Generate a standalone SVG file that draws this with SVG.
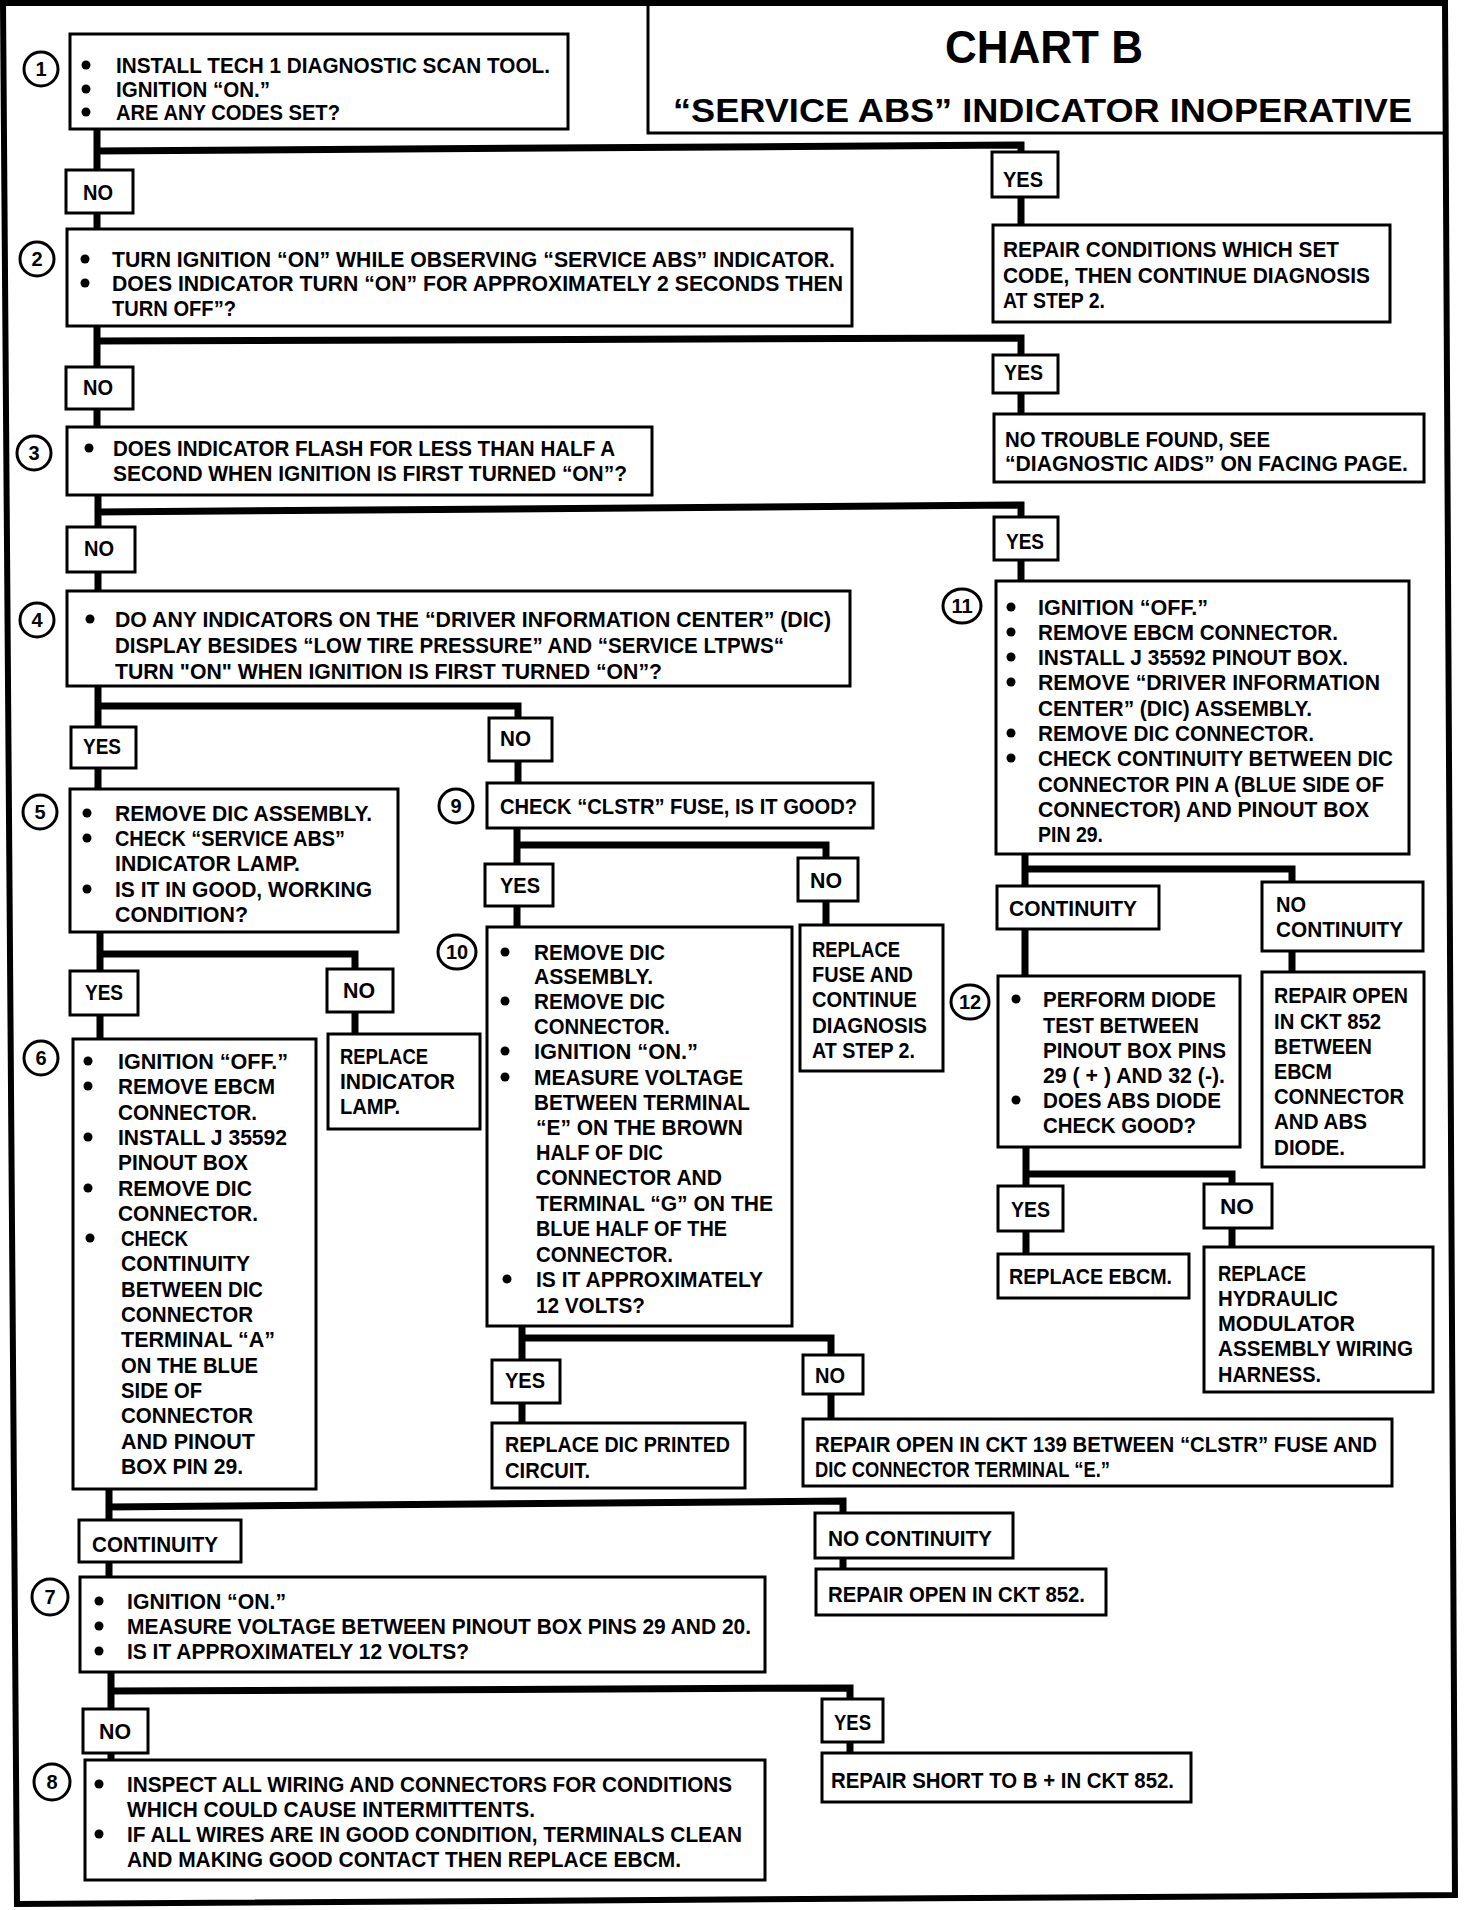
<svg xmlns="http://www.w3.org/2000/svg" width="1472" height="1910" viewBox="0 0 1472 1910">
<style>
text{font-family:"Liberation Sans",Arial,sans-serif;font-weight:bold;font-size:22px;fill:#000}
.n{font-size:20px;text-anchor:middle}
.h1{font-size:46px}
.h2{font-size:34px}
.d{fill:#000}
.box{fill:#fff;stroke:#000;stroke-width:3}
.c{fill:#fff;stroke:#000;stroke-width:3}
.w{fill:none;stroke:#000;stroke-width:7;stroke-linecap:square}
</style>
<rect width="1472" height="1910" fill="#fff"/>
<path d="M3 3 L1445 3 L1455 1895 L17 1904 Z" fill="none" stroke="#000" stroke-width="6"/>
<g id="title">
<path d="M648 3 V133 H1445" fill="none" stroke="#000" stroke-width="3"/>
<text class="h1" x="945" y="63" textLength="198" lengthAdjust="spacingAndGlyphs">CHART B</text>
<text class="h2" x="673" y="122" textLength="739" lengthAdjust="spacingAndGlyphs">“SERVICE ABS” INDICATOR INOPERATIVE</text>
</g>
<g id="connectors">
<path class="w" d="M97 129 V229 M97 151 L1021 145 V225"/>
<path class="w" d="M97 326 V426 M97 341 L1021 338 V414"/>
<path class="w" d="M98 495 V591 M98 512 L1021 505 V581"/>
<path class="w" d="M98 686 V789 M98 706 H518 V783"/>
<path class="w" d="M100 932 V1039 M100 954 H355 V1034"/>
<path class="w" d="M517 828 V927 M517 845 H826 V925"/>
<path class="w" d="M522 1326 V1423 M522 1338 H831 V1419"/>
<path class="w" d="M109 1489 V1578 M109 1507 L843 1501 V1569"/>
<path class="w" d="M111 1672 V1760 M111 1691 L850 1688 V1753"/>
<path class="w" d="M1025 854 V976 M1025 869 H1292 V972"/>
<path class="w" d="M1026 1147 V1254 M1026 1174 H1232 V1247"/>
</g>
<g id="step1">
<rect class="box" x="70" y="34" width="498" height="95"/>
<circle class="c" cx="41" cy="69" r="17"/><text class="n" x="41" y="76">1</text>
<circle class="d" cx="86" cy="65" r="4.5"/><text x="116" y="73" textLength="434" lengthAdjust="spacingAndGlyphs">INSTALL TECH 1 DIAGNOSTIC SCAN TOOL.</text>
<circle class="d" cx="86" cy="89" r="4.5"/><text x="116" y="97" textLength="154" lengthAdjust="spacingAndGlyphs">IGNITION “ON.”</text>
<circle class="d" cx="86" cy="112" r="4.5"/><text x="116" y="120" textLength="224" lengthAdjust="spacingAndGlyphs">ARE ANY CODES SET?</text>
</g>
<g id="no1"><rect class="box" x="66" y="170" width="67" height="43"/><text x="83" y="200" textLength="30" lengthAdjust="spacingAndGlyphs">NO</text></g>
<g id="yes1"><rect class="box" x="992" y="152" width="66" height="45"/><text x="1003" y="187" textLength="40" lengthAdjust="spacingAndGlyphs">YES</text></g>
<g id="repair-conditions">
<rect class="box" x="993" y="225" width="397" height="97"/>
<text x="1003" y="257" textLength="336" lengthAdjust="spacingAndGlyphs">REPAIR CONDITIONS WHICH SET</text>
<text x="1003" y="283" textLength="367" lengthAdjust="spacingAndGlyphs">CODE, THEN CONTINUE DIAGNOSIS</text>
<text x="1003" y="308" textLength="102" lengthAdjust="spacingAndGlyphs">AT STEP 2.</text>
</g>
<g id="step2">
<rect class="box" x="67" y="229" width="785" height="97"/>
<circle class="c" cx="37" cy="259" r="17"/><text class="n" x="37" y="266">2</text>
<circle class="d" cx="85" cy="259" r="4.5"/><text x="112" y="267" textLength="723" lengthAdjust="spacingAndGlyphs">TURN IGNITION “ON” WHILE OBSERVING “SERVICE ABS” INDICATOR.</text>
<circle class="d" cx="85" cy="283" r="4.5"/><text x="112" y="291" textLength="731" lengthAdjust="spacingAndGlyphs">DOES INDICATOR TURN “ON” FOR APPROXIMATELY 2 SECONDS THEN</text>
<text x="112" y="316" textLength="124" lengthAdjust="spacingAndGlyphs">TURN OFF”?</text>
</g>
<g id="no2"><rect class="box" x="66" y="367" width="67" height="42"/><text x="83" y="395" textLength="30" lengthAdjust="spacingAndGlyphs">NO</text></g>
<g id="yes2"><rect class="box" x="993" y="355" width="65" height="38"/><text x="1004" y="380" textLength="39" lengthAdjust="spacingAndGlyphs">YES</text></g>
<g id="no-trouble">
<rect class="box" x="994" y="414" width="430" height="68"/>
<text x="1005" y="447" textLength="265" lengthAdjust="spacingAndGlyphs">NO TROUBLE FOUND, SEE</text>
<text x="1005" y="471" textLength="403" lengthAdjust="spacingAndGlyphs">“DIAGNOSTIC AIDS” ON FACING PAGE.</text>
</g>
<g id="step3">
<rect class="box" x="67" y="427" width="585" height="68"/>
<circle class="c" cx="34" cy="453" r="17"/><text class="n" x="34" y="460">3</text>
<circle class="d" cx="89" cy="448" r="4.5"/><text x="113" y="456" textLength="502" lengthAdjust="spacingAndGlyphs">DOES INDICATOR FLASH FOR LESS THAN HALF A</text>
<text x="113" y="481" textLength="514" lengthAdjust="spacingAndGlyphs">SECOND WHEN IGNITION IS FIRST TURNED “ON”?</text>
</g>
<g id="no3"><rect class="box" x="67" y="527" width="68" height="45"/><text x="84" y="556" textLength="30" lengthAdjust="spacingAndGlyphs">NO</text></g>
<g id="yes3"><rect class="box" x="994" y="517" width="64" height="43"/><text x="1006" y="549" textLength="38" lengthAdjust="spacingAndGlyphs">YES</text></g>
<g id="step11">
<rect class="box" x="996" y="581" width="413" height="273"/>
<ellipse class="c" cx="962" cy="606" rx="19" ry="17"/><text class="n" x="962" y="613">11</text>
<circle class="d" cx="1011" cy="607" r="4.5"/><text x="1038" y="615" textLength="170" lengthAdjust="spacingAndGlyphs">IGNITION “OFF.”</text>
<circle class="d" cx="1011" cy="632" r="4.5"/><text x="1038" y="640" textLength="300" lengthAdjust="spacingAndGlyphs">REMOVE EBCM CONNECTOR.</text>
<circle class="d" cx="1011" cy="657" r="4.5"/><text x="1038" y="665" textLength="310" lengthAdjust="spacingAndGlyphs">INSTALL J 35592 PINOUT BOX.</text>
<circle class="d" cx="1011" cy="682" r="4.5"/><text x="1038" y="690" textLength="342" lengthAdjust="spacingAndGlyphs">REMOVE “DRIVER INFORMATION</text>
<text x="1038" y="716" textLength="274" lengthAdjust="spacingAndGlyphs">CENTER” (DIC) ASSEMBLY.</text>
<circle class="d" cx="1011" cy="733" r="4.5"/><text x="1038" y="741" textLength="276" lengthAdjust="spacingAndGlyphs">REMOVE DIC CONNECTOR.</text>
<circle class="d" cx="1011" cy="758" r="4.5"/><text x="1038" y="766" textLength="355" lengthAdjust="spacingAndGlyphs">CHECK CONTINUITY BETWEEN DIC</text>
<text x="1038" y="792" textLength="346" lengthAdjust="spacingAndGlyphs">CONNECTOR PIN A (BLUE SIDE OF</text>
<text x="1038" y="817" textLength="331" lengthAdjust="spacingAndGlyphs">CONNECTOR) AND PINOUT BOX</text>
<text x="1038" y="842" textLength="65" lengthAdjust="spacingAndGlyphs">PIN 29.</text>
</g>
<g id="step4">
<rect class="box" x="67" y="591" width="783" height="95"/>
<circle class="c" cx="37" cy="620" r="17"/><text class="n" x="37" y="627">4</text>
<circle class="d" cx="90" cy="619" r="4.5"/><text x="115" y="627" textLength="716" lengthAdjust="spacingAndGlyphs">DO ANY INDICATORS ON THE “DRIVER INFORMATION CENTER” (DIC)</text>
<text x="115" y="653" textLength="669" lengthAdjust="spacingAndGlyphs">DISPLAY BESIDES “LOW TIRE PRESSURE” AND “SERVICE LTPWS“</text>
<text x="115" y="679" textLength="547" lengthAdjust="spacingAndGlyphs">TURN "ON" WHEN IGNITION IS FIRST TURNED “ON”?</text>
</g>
<g id="yes4"><rect class="box" x="71" y="727" width="65" height="41"/><text x="83" y="754" textLength="38" lengthAdjust="spacingAndGlyphs">YES</text></g>
<g id="no4"><rect class="box" x="489" y="718" width="63" height="43"/><text x="500" y="746" textLength="31" lengthAdjust="spacingAndGlyphs">NO</text></g>
<g id="step5">
<rect class="box" x="70" y="789" width="328" height="143"/>
<circle class="c" cx="40" cy="812" r="17"/><text class="n" x="40" y="819">5</text>
<circle class="d" cx="87" cy="813" r="4.5"/><text x="115" y="821" textLength="257" lengthAdjust="spacingAndGlyphs">REMOVE DIC ASSEMBLY.</text>
<circle class="d" cx="87" cy="838" r="4.5"/><text x="115" y="846" textLength="230" lengthAdjust="spacingAndGlyphs">CHECK “SERVICE ABS”</text>
<text x="115" y="871" textLength="185" lengthAdjust="spacingAndGlyphs">INDICATOR LAMP.</text>
<circle class="d" cx="87" cy="889" r="4.5"/><text x="115" y="897" textLength="257" lengthAdjust="spacingAndGlyphs">IS IT IN GOOD, WORKING</text>
<text x="115" y="922" textLength="133" lengthAdjust="spacingAndGlyphs">CONDITION?</text>
</g>
<g id="yes5"><rect class="box" x="70" y="971" width="68" height="44"/><text x="85" y="1000" textLength="38" lengthAdjust="spacingAndGlyphs">YES</text></g>
<g id="no5"><rect class="box" x="327" y="969" width="66" height="43"/><text x="343" y="998" textLength="32" lengthAdjust="spacingAndGlyphs">NO</text></g>
<g id="replace-lamp">
<rect class="box" x="328" y="1034" width="152" height="95"/>
<text x="340" y="1064" textLength="88" lengthAdjust="spacingAndGlyphs">REPLACE</text>
<text x="340" y="1089" textLength="115" lengthAdjust="spacingAndGlyphs">INDICATOR</text>
<text x="340" y="1114" textLength="60" lengthAdjust="spacingAndGlyphs">LAMP.</text>
</g>
<g id="step6">
<rect class="box" x="73" y="1039" width="243" height="450"/>
<circle class="c" cx="41" cy="1058" r="17"/><text class="n" x="41" y="1065">6</text>
<circle class="d" cx="88" cy="1061" r="4.5"/><text x="118" y="1069" textLength="170" lengthAdjust="spacingAndGlyphs">IGNITION “OFF.”</text>
<circle class="d" cx="88" cy="1086" r="4.5"/><text x="118" y="1094" textLength="157" lengthAdjust="spacingAndGlyphs">REMOVE EBCM</text>
<text x="118" y="1120" textLength="139" lengthAdjust="spacingAndGlyphs">CONNECTOR.</text>
<circle class="d" cx="88" cy="1137" r="4.5"/><text x="118" y="1145" textLength="169" lengthAdjust="spacingAndGlyphs">INSTALL J 35592</text>
<text x="118" y="1170" textLength="130" lengthAdjust="spacingAndGlyphs">PINOUT BOX</text>
<circle class="d" cx="88" cy="1188" r="4.5"/><text x="118" y="1196" textLength="134" lengthAdjust="spacingAndGlyphs">REMOVE DIC</text>
<text x="118" y="1221" textLength="140" lengthAdjust="spacingAndGlyphs">CONNECTOR.</text>
<circle class="d" cx="90" cy="1238" r="4.5"/><text x="121" y="1246" textLength="67" lengthAdjust="spacingAndGlyphs">CHECK</text>
<text x="121" y="1271" textLength="129" lengthAdjust="spacingAndGlyphs">CONTINUITY</text>
<text x="121" y="1297" textLength="142" lengthAdjust="spacingAndGlyphs">BETWEEN DIC</text>
<text x="121" y="1322" textLength="132" lengthAdjust="spacingAndGlyphs">CONNECTOR</text>
<text x="121" y="1347" textLength="154" lengthAdjust="spacingAndGlyphs">TERMINAL “A”</text>
<text x="121" y="1373" textLength="137" lengthAdjust="spacingAndGlyphs">ON THE BLUE</text>
<text x="121" y="1398" textLength="81" lengthAdjust="spacingAndGlyphs">SIDE OF</text>
<text x="121" y="1423" textLength="132" lengthAdjust="spacingAndGlyphs">CONNECTOR</text>
<text x="121" y="1449" textLength="134" lengthAdjust="spacingAndGlyphs">AND PINOUT</text>
<text x="121" y="1474" textLength="122" lengthAdjust="spacingAndGlyphs">BOX PIN 29.</text>
</g>
<g id="step9">
<rect class="box" x="487" y="783" width="386" height="45"/>
<circle class="c" cx="456" cy="806" r="17"/><text class="n" x="456" y="813">9</text>
<text x="500" y="814" textLength="357" lengthAdjust="spacingAndGlyphs">CHECK “CLSTR” FUSE, IS IT GOOD?</text>
</g>
<g id="yes9"><rect class="box" x="485" y="864" width="68" height="42"/><text x="500" y="893" textLength="40" lengthAdjust="spacingAndGlyphs">YES</text></g>
<g id="no9"><rect class="box" x="798" y="858" width="60" height="43"/><text x="810" y="888" textLength="32" lengthAdjust="spacingAndGlyphs">NO</text></g>
<g id="step10">
<rect class="box" x="487" y="927" width="305" height="399"/>
<ellipse class="c" cx="457" cy="952" rx="19" ry="17"/><text class="n" x="457" y="959">10</text>
<circle class="d" cx="505" cy="952" r="4.5"/><text x="534" y="960" textLength="131" lengthAdjust="spacingAndGlyphs">REMOVE DIC</text>
<text x="534" y="984" textLength="119" lengthAdjust="spacingAndGlyphs">ASSEMBLY.</text>
<circle class="d" cx="505" cy="1001" r="4.5"/><text x="534" y="1009" textLength="131" lengthAdjust="spacingAndGlyphs">REMOVE DIC</text>
<text x="534" y="1034" textLength="136" lengthAdjust="spacingAndGlyphs">CONNECTOR.</text>
<circle class="d" cx="505" cy="1051" r="4.5"/><text x="534" y="1059" textLength="164" lengthAdjust="spacingAndGlyphs">IGNITION “ON.”</text>
<circle class="d" cx="505" cy="1077" r="4.5"/><text x="534" y="1085" textLength="209" lengthAdjust="spacingAndGlyphs">MEASURE VOLTAGE</text>
<text x="534" y="1110" textLength="216" lengthAdjust="spacingAndGlyphs">BETWEEN TERMINAL</text>
<text x="536" y="1135" textLength="207" lengthAdjust="spacingAndGlyphs">“E” ON THE BROWN</text>
<text x="536" y="1160" textLength="127" lengthAdjust="spacingAndGlyphs">HALF OF DIC</text>
<text x="536" y="1185" textLength="186" lengthAdjust="spacingAndGlyphs">CONNECTOR AND</text>
<text x="536" y="1211" textLength="237" lengthAdjust="spacingAndGlyphs">TERMINAL “G” ON THE</text>
<text x="536" y="1236" textLength="191" lengthAdjust="spacingAndGlyphs">BLUE HALF OF THE</text>
<text x="536" y="1262" textLength="137" lengthAdjust="spacingAndGlyphs">CONNECTOR.</text>
<circle class="d" cx="507" cy="1279" r="4.5"/><text x="536" y="1287" textLength="227" lengthAdjust="spacingAndGlyphs">IS IT APPROXIMATELY</text>
<text x="536" y="1313" textLength="109" lengthAdjust="spacingAndGlyphs">12 VOLTS?</text>
</g>
<g id="replace-fuse">
<rect class="box" x="800" y="925" width="143" height="146"/>
<text x="812" y="957" textLength="88" lengthAdjust="spacingAndGlyphs">REPLACE</text>
<text x="812" y="982" textLength="101" lengthAdjust="spacingAndGlyphs">FUSE AND</text>
<text x="812" y="1007" textLength="105" lengthAdjust="spacingAndGlyphs">CONTINUE</text>
<text x="812" y="1033" textLength="115" lengthAdjust="spacingAndGlyphs">DIAGNOSIS</text>
<text x="812" y="1058" textLength="103" lengthAdjust="spacingAndGlyphs">AT STEP 2.</text>
</g>
<g id="yes10"><rect class="box" x="492" y="1360" width="68" height="43"/><text x="505" y="1388" textLength="40" lengthAdjust="spacingAndGlyphs">YES</text></g>
<g id="no10"><rect class="box" x="803" y="1355" width="60" height="39"/><text x="815" y="1383" textLength="30" lengthAdjust="spacingAndGlyphs">NO</text></g>
<g id="replace-dic">
<rect class="box" x="492" y="1423" width="253" height="65"/>
<text x="505" y="1452" textLength="225" lengthAdjust="spacingAndGlyphs">REPLACE DIC PRINTED</text>
<text x="505" y="1478" textLength="85" lengthAdjust="spacingAndGlyphs">CIRCUIT.</text>
</g>
<g id="repair-139">
<rect class="box" x="803" y="1419" width="589" height="67"/>
<text x="815" y="1452" textLength="562" lengthAdjust="spacingAndGlyphs">REPAIR OPEN IN CKT 139 BETWEEN “CLSTR” FUSE AND</text>
<text x="815" y="1477" textLength="295" lengthAdjust="spacingAndGlyphs">DIC CONNECTOR TERMINAL “E.”</text>
</g>
<g id="continuity-r"><rect class="box" x="997" y="886" width="162" height="43"/><text x="1009" y="916" textLength="128" lengthAdjust="spacingAndGlyphs">CONTINUITY</text></g>
<g id="nocontinuity-r"><rect class="box" x="1262" y="882" width="161" height="69"/>
<text x="1276" y="912" textLength="30" lengthAdjust="spacingAndGlyphs">NO</text>
<text x="1276" y="937" textLength="127" lengthAdjust="spacingAndGlyphs">CONTINUITY</text></g>
<g id="step12">
<rect class="box" x="998" y="976" width="242" height="171"/>
<ellipse class="c" cx="970" cy="1002" rx="19" ry="17"/><text class="n" x="970" y="1009">12</text>
<circle class="d" cx="1016" cy="999" r="4.5"/><text x="1043" y="1007" textLength="173" lengthAdjust="spacingAndGlyphs">PERFORM DIODE</text>
<text x="1043" y="1033" textLength="156" lengthAdjust="spacingAndGlyphs">TEST BETWEEN</text>
<text x="1043" y="1058" textLength="183" lengthAdjust="spacingAndGlyphs">PINOUT BOX PINS</text>
<text x="1043" y="1083" textLength="182" lengthAdjust="spacingAndGlyphs">29 ( + ) AND 32 (-).</text>
<circle class="d" cx="1016" cy="1100" r="4.5"/><text x="1043" y="1108" textLength="178" lengthAdjust="spacingAndGlyphs">DOES ABS DIODE</text>
<text x="1043" y="1133" textLength="153" lengthAdjust="spacingAndGlyphs">CHECK GOOD?</text>
</g>
<g id="repair-852-r">
<rect class="box" x="1262" y="972" width="162" height="195"/>
<text x="1274" y="1003" textLength="134" lengthAdjust="spacingAndGlyphs">REPAIR OPEN</text>
<text x="1274" y="1029" textLength="107" lengthAdjust="spacingAndGlyphs">IN CKT 852</text>
<text x="1274" y="1054" textLength="98" lengthAdjust="spacingAndGlyphs">BETWEEN</text>
<text x="1274" y="1079" textLength="58" lengthAdjust="spacingAndGlyphs">EBCM</text>
<text x="1274" y="1104" textLength="130" lengthAdjust="spacingAndGlyphs">CONNECTOR</text>
<text x="1274" y="1129" textLength="93" lengthAdjust="spacingAndGlyphs">AND ABS</text>
<text x="1274" y="1155" textLength="71" lengthAdjust="spacingAndGlyphs">DIODE.</text>
</g>
<g id="yes12"><rect class="box" x="998" y="1186" width="65" height="45"/><text x="1011" y="1217" textLength="39" lengthAdjust="spacingAndGlyphs">YES</text></g>
<g id="no12"><rect class="box" x="1204" y="1184" width="68" height="44"/><text x="1220" y="1214" textLength="34" lengthAdjust="spacingAndGlyphs">NO</text></g>
<g id="replace-ebcm"><rect class="box" x="998" y="1254" width="191" height="44"/><text x="1009" y="1284" textLength="163" lengthAdjust="spacingAndGlyphs">REPLACE EBCM.</text></g>
<g id="replace-hydraulic">
<rect class="box" x="1204" y="1247" width="229" height="145"/>
<text x="1218" y="1281" textLength="88" lengthAdjust="spacingAndGlyphs">REPLACE</text>
<text x="1218" y="1306" textLength="120" lengthAdjust="spacingAndGlyphs">HYDRAULIC</text>
<text x="1218" y="1331" textLength="137" lengthAdjust="spacingAndGlyphs">MODULATOR</text>
<text x="1218" y="1356" textLength="195" lengthAdjust="spacingAndGlyphs">ASSEMBLY WIRING</text>
<text x="1218" y="1382" textLength="103" lengthAdjust="spacingAndGlyphs">HARNESS.</text>
</g>
<g id="continuity-b"><rect class="box" x="79" y="1520" width="162" height="42"/><text x="92" y="1552" textLength="126" lengthAdjust="spacingAndGlyphs">CONTINUITY</text></g>
<g id="nocontinuity-b"><rect class="box" x="815" y="1513" width="198" height="45"/><text x="828" y="1546" textLength="164" lengthAdjust="spacingAndGlyphs">NO CONTINUITY</text></g>
<g id="repair-852-b"><rect class="box" x="816" y="1569" width="290" height="46"/><text x="828" y="1602" textLength="257" lengthAdjust="spacingAndGlyphs">REPAIR OPEN IN CKT 852.</text></g>
<g id="step7">
<rect class="box" x="80" y="1577" width="685" height="95"/>
<circle class="c" cx="50" cy="1597" r="18"/><text class="n" x="50" y="1604">7</text>
<circle class="d" cx="99" cy="1601" r="4.5"/><text x="127" y="1609" textLength="159" lengthAdjust="spacingAndGlyphs">IGNITION “ON.”</text>
<circle class="d" cx="99" cy="1626" r="4.5"/><text x="127" y="1634" textLength="624" lengthAdjust="spacingAndGlyphs">MEASURE VOLTAGE BETWEEN PINOUT BOX PINS 29 AND 20.</text>
<circle class="d" cx="99" cy="1651" r="4.5"/><text x="127" y="1659" textLength="342" lengthAdjust="spacingAndGlyphs">IS IT APPROXIMATELY 12 VOLTS?</text>
</g>
<g id="no7"><rect class="box" x="83" y="1709" width="65" height="44"/><text x="99" y="1739" textLength="32" lengthAdjust="spacingAndGlyphs">NO</text></g>
<g id="yes7"><rect class="box" x="822" y="1699" width="61" height="43"/><text x="834" y="1730" textLength="37" lengthAdjust="spacingAndGlyphs">YES</text></g>
<g id="repair-short"><rect class="box" x="822" y="1753" width="369" height="49"/><text x="831" y="1788" textLength="343" lengthAdjust="spacingAndGlyphs">REPAIR SHORT TO B + IN CKT 852.</text></g>
<g id="step8">
<rect class="box" x="85" y="1760" width="680" height="120"/>
<circle class="c" cx="52" cy="1782" r="18"/><text class="n" x="52" y="1789">8</text>
<circle class="d" cx="99" cy="1784" r="4.5"/><text x="127" y="1792" textLength="605" lengthAdjust="spacingAndGlyphs">INSPECT ALL WIRING AND CONNECTORS FOR CONDITIONS</text>
<text x="127" y="1817" textLength="408" lengthAdjust="spacingAndGlyphs">WHICH COULD CAUSE INTERMITTENTS.</text>
<circle class="d" cx="99" cy="1834" r="4.5"/><text x="127" y="1842" textLength="615" lengthAdjust="spacingAndGlyphs">IF ALL WIRES ARE IN GOOD CONDITION, TERMINALS CLEAN</text>
<text x="127" y="1867" textLength="554" lengthAdjust="spacingAndGlyphs">AND MAKING GOOD CONTACT THEN REPLACE EBCM.</text>
</g>
</svg>
